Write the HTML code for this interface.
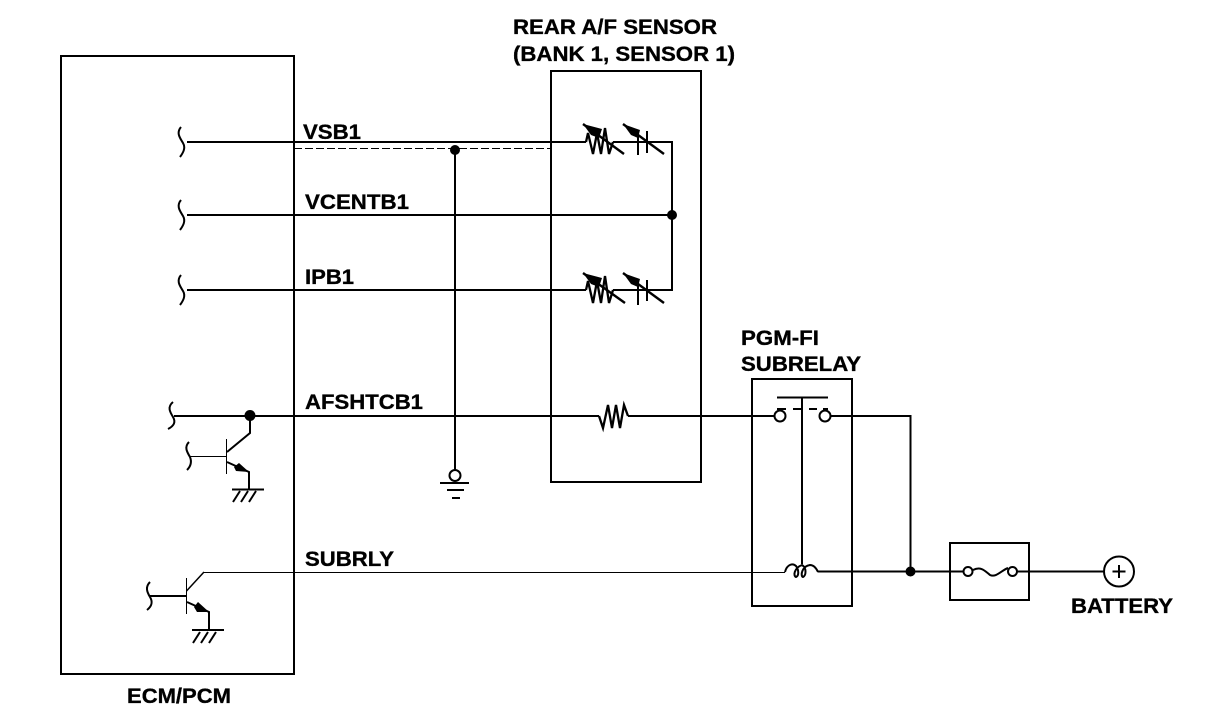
<!DOCTYPE html>
<html>
<head>
<meta charset="utf-8">
<style>
html,body{margin:0;padding:0;background:#fff;width:1216px;height:724px;overflow:hidden}
svg{display:block}
text{font-family:"Liberation Sans",sans-serif;font-weight:bold;font-size:21px;fill:#000;stroke:#000;stroke-width:0.35px}
</style>
</head>
<body>
<svg width="1216" height="724" viewBox="0 0 1216 724" xmlns="http://www.w3.org/2000/svg">
<g fill="none" stroke="#000" stroke-width="2">
  <!-- boxes -->
  <g shape-rendering="crispEdges">
  <rect x="61" y="56" width="233" height="618"/>
  <rect x="551" y="71" width="150" height="411"/>
  <rect x="752" y="379" width="100" height="227"/>
  <rect x="950" y="543" width="79" height="57"/>
  </g>

  <!-- VSB1 -->
  <path d="M187 142H586" shape-rendering="crispEdges"/>
  <path d="M181 127C176 133 180 138 183 143C186 148 183 153 180 157"/>
  <path d="M294 148.500H551" stroke-width="1" stroke-dasharray="8 3" shape-rendering="crispEdges"/>
  <path d="M613 142H672V290H613" shape-rendering="crispEdges"/>
  <path d="M586 142L588 133L593 154L597 133L601 154L605 128L609 154L613 142" stroke-width="2.300"/>
  <path d="M586 290L588 281L593 303L597 281L601 303L605 276L609 303L613 290" stroke-width="2.300"/>
  <path d="M583 124L624 154M623 124L664 154" stroke-width="2.400"/>
  <path d="M638 131V155M647 131V153"/>
  <path d="M583 273L625 303M623 273L664 303" stroke-width="2.400"/>
  <path d="M638 280V305M647 280V301"/>

  <!-- VCENTB1 -->
  <path d="M187 215H672" shape-rendering="crispEdges"/>
  <path d="M181 200C176 206 180 211 183 216C186 221 183 226 180 230"/>

  <!-- IPB1 -->
  <path d="M187 290H586" shape-rendering="crispEdges"/>
  <path d="M181 275C176 281 180 286 183 291C186 296 183 301 180 305"/>

  <!-- AFSHTCB1 -->
  <path d="M174 416H599M628 416H775" shape-rendering="crispEdges"/>
  <path d="M599 416L603 428L608 405L612 428L616 405L620 428L624 405L628 416" stroke-width="2.300"/>
  <path d="M173 402C167 407 170 412 173 417C176 422 174 426 168 429"/>
  <path d="M250 416V433L227 452"/>
  <path d="M226.500 439V474" stroke-width="1" shape-rendering="crispEdges"/>
  <path d="M190 456.500H227" stroke-width="1" shape-rendering="crispEdges"/>
  <path d="M189 442C184 447 187 452 190 457C192 462 191 466 187 470"/>
  <path d="M227 462L249 472V489"/>
  <path d="M232 489.500H264" shape-rendering="crispEdges"/>
  <path d="M240 491L233 502M248 491L241 502M256 491L249 502"/>

  <!-- ground wire -->
  <path d="M455 150V470" shape-rendering="crispEdges"/>
  <circle cx="455" cy="475.500" r="5.500"/>
  <path d="M440 483H469M447 490H464M452 498H460" shape-rendering="crispEdges"/>

  <!-- SUBRLY -->
  <path d="M204 572.500H785" stroke-width="1" shape-rendering="crispEdges"/>
  <path d="M186.500 578V614" stroke-width="1" shape-rendering="crispEdges"/>
  <path d="M186.500 591L204 572" stroke-width="1.500"/>
  <path d="M150 596H187" shape-rendering="crispEdges"/>
  <path d="M150 582C145 587 147 592 150 597C153 602 152 606 147 610"/>
  <path d="M187 602L209 612V630"/>
  <path d="M192 630H224" shape-rendering="crispEdges"/>
  <path d="M200 632L193 643M208 632L201 643M216 632L209 643"/>

  <!-- relay contact -->
  <g shape-rendering="crispEdges">
  <path d="M777 397.500H828"/>
  <path d="M802 397V564"/>
  <path d="M777 409H786M793 409H801M809 409H817M823 409H828"/>
  <path d="M830 416H910.500V571"/>
  <path d="M818 571.500H963"/>
  <path d="M1017 571.500H1104"/>
  </g>
  <circle cx="780" cy="416" r="5.500"/>
  <circle cx="825" cy="416" r="5.500"/>

  <!-- coil -->
  <path d="M785 572C787 564 793 563 796 566C799 570 799 576 796 577C793 576 794 568 802 565C807 568 806 576 803 577C800 576 802 566 810 565C815 565 817 570 818 572"/>

  <!-- fuse -->
  <circle cx="968" cy="571.500" r="4.500"/>
  <circle cx="1012.500" cy="571.500" r="4.500"/>
  <path d="M973 570C981 566 985 571 990 575C996 578 1002 570 1008 568"/>

  <!-- battery -->
  <circle cx="1119" cy="571.500" r="15"/>
  <path d="M1112.500 571.500H1125.500M1119 565V578" shape-rendering="crispEdges"/>
</g>

<!-- filled details -->
<g fill="#000" stroke="none">
  <circle cx="672" cy="215" r="5"/>
  <circle cx="455" cy="150" r="5"/>
  <circle cx="250" cy="415.500" r="5.500"/>
  <circle cx="910.500" cy="571.500" r="5"/>
  <path d="M583 124L602 129L599 138L591 135Z"/>
  <path d="M623 124L640 130L638 138L631 135Z"/>
  <path d="M583 273L602 278L599 287L591 284Z"/>
  <path d="M623 273L640 279L638 287L631 284Z"/>
  <path d="M249 472L239 463L234 467L236 471Z"/>
  <path d="M209 612L198 602L194 607L197 612Z"/>
</g>

<text x="513" y="34" textLength="204" lengthAdjust="spacingAndGlyphs">REAR A/F SENSOR</text>
<text x="513" y="61" textLength="222" lengthAdjust="spacingAndGlyphs">(BANK 1, SENSOR 1)</text>
<text x="303" y="139" textLength="58" lengthAdjust="spacingAndGlyphs">VSB1</text>
<text x="305" y="209" textLength="104" lengthAdjust="spacingAndGlyphs">VCENTB1</text>
<text x="305" y="284" textLength="49" lengthAdjust="spacingAndGlyphs">IPB1</text>
<text x="305" y="409" textLength="118" lengthAdjust="spacingAndGlyphs">AFSHTCB1</text>
<text x="305" y="566" textLength="89" lengthAdjust="spacingAndGlyphs">SUBRLY</text>
<text x="741" y="345" textLength="78" lengthAdjust="spacingAndGlyphs">PGM-FI</text>
<text x="741" y="371" textLength="120" lengthAdjust="spacingAndGlyphs">SUBRELAY</text>
<text x="1071" y="613" textLength="102" lengthAdjust="spacingAndGlyphs">BATTERY</text>
<text x="127" y="703" textLength="104" lengthAdjust="spacingAndGlyphs">ECM/PCM</text>
</svg>
</body>
</html>
